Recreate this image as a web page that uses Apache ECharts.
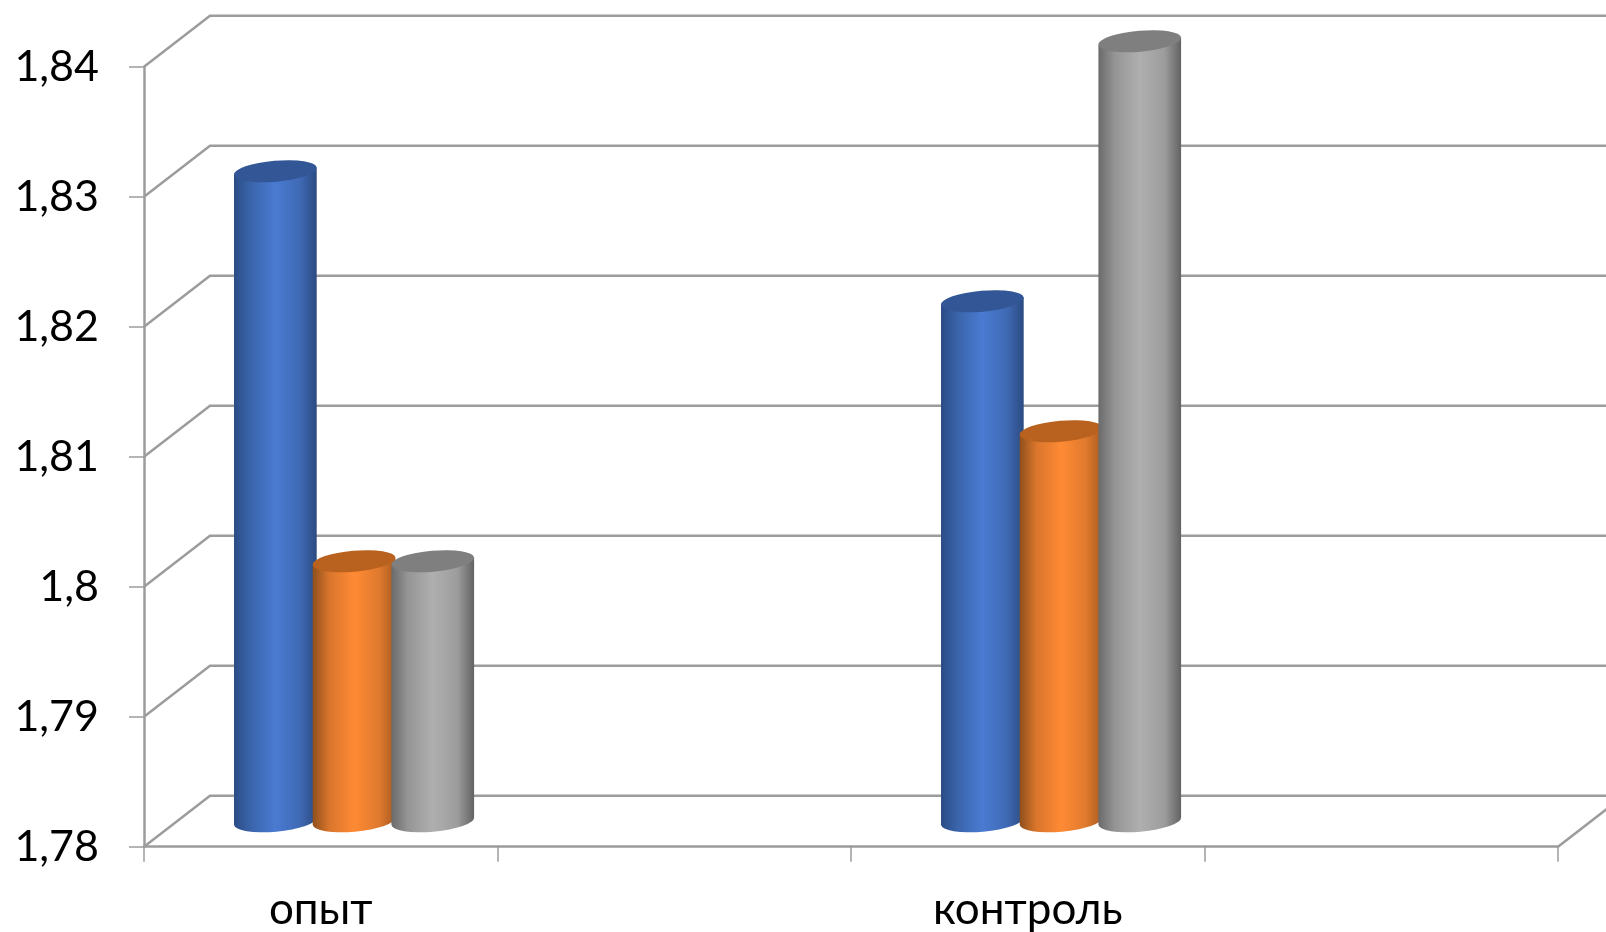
<!DOCTYPE html>
<html><head><meta charset="utf-8">
<style>html,body{margin:0;padding:0;background:#fff}#c{width:1606px;height:932px}</style>
<script src="https://cdn.jsdelivr.net/npm/echarts@6/dist/echarts.min.js"></script>
</head><body><div id="c"></div>
<script>
const categories = ['опыт', '', 'контроль', ''];
const seriesA = [1.83, null, 1.82, null];
const seriesB = [1.80, null, 1.81, null];
const seriesC = [1.80, null, 1.84, null];
const yTicks = [1.78, 1.79, 1.80, 1.81, 1.82, 1.83, 1.84];

const DEPTH_X = 66, DEPTH_Y = 51;
const BAR_STEP = 78.7, RX = 41.5, RY = 10.5, TILT = 5 * Math.PI / 180;
const FONT = 'Lato, "Open Sans", sans-serif';
const WALL = '#9c9c9c';

function grad(edgeL, mid1, center, mid2, edgeR) {
  return { type: 'linear', x: 0, y: 0, x2: 1, y2: 0, colorStops: [
    { offset: 0, color: edgeL }, { offset: 0.2, color: mid1 }, { offset: 0.5, color: center },
    { offset: 0.8, color: mid2 }, { offset: 1, color: edgeR } ] };
}
const looks = [
  { body: grad('#2a4c86', '#3a64aa', '#4a7bd2', '#3f69b4', '#2b4a80'), top: '#335796' },
  { body: grad('#8f4f1c', '#d9752c', '#ff8a34', '#e07a2e', '#a85a20'), top: '#b9621f' },
  { body: grad('#6a6a6a', '#959595', '#afafaf', '#9c9c9c', '#626262'), top: '#7f7f7f' }
];

function cylinder(idx) {
  return function (params, api) {
    const look = looks[idx];
    const cat = api.value(0), val = api.value(1);
    const cx = api.coord([cat, val])[0] + DEPTH_X / 2 + (idx - 1) * BAR_STEP + 0.3;
    const topY = api.coord([cat, val])[1] - DEPTH_Y / 2;
    const baseY = api.coord([cat, 1.78])[1] - DEPTH_Y / 2;
    const ex = RX * Math.cos(TILT), ey = RX * Math.sin(TILT);
    const rot = -5;
    const arc = (x, y, sweep) => `A${RX} ${RY} ${rot} 0 ${sweep} ${x} ${y}`;
    const body = `M${cx - ex} ${topY + ey}` +
      `L${cx + ex} ${topY - ey}` +
      `L${cx + ex} ${baseY - ey}` +
      arc(cx - ex, baseY + ey, 1) + 'Z';
    const lid = `M${cx - ex} ${topY + ey}` + arc(cx + ex, topY - ey, 1) + arc(cx - ex, topY + ey, 1) + 'Z';
    return { type: 'group', children: [
      { type: 'path', shape: { pathData: body }, style: { fill: look.body } },
      { type: 'path', shape: { pathData: lid }, style: { fill: look.top } }
    ] };
  };
}

function barData(values) {
  return values.map((v, i) => (v === null ? null : [i, v])).filter(Boolean);
}

function wallLine(params, api) {
  const val = api.value(0);
  const p = api.coord([0, val]);
  const x0 = params.coordSys.x, x1 = params.coordSys.x + params.coordSys.width;
  const y = p[1];
  const children = [{
    type: 'polyline',
    shape: { points: [[x0, y], [x0 + DEPTH_X, y - DEPTH_Y], [1640, y - DEPTH_Y]] },
    style: { fill: null, stroke: WALL, lineWidth: 2.5 }
  }];
  if (val === yTicks[0]) {
    children.push({ type: 'line', shape: { x1: x1, y1: y, x2: x1 + DEPTH_X, y2: y - DEPTH_Y },
      style: { stroke: WALL, lineWidth: 2.5 } });
  }
  return { type: 'group', children };
}

const chart = echarts.init(document.getElementById('c'), null, { renderer: 'canvas' });
chart.setOption({
  animation: false,
  backgroundColor: '#fff',
  grid: { left: 144, right: 48, top: 66.7, bottom: 85.3, containLabel: false },
  xAxis: {
    type: 'category', data: categories,
    axisLine: { lineStyle: { color: WALL, width: 2.5 } },
    axisTick: { show: true, length: 15, interval: 0, alignWithLabel: false, lineStyle: { color: WALL, width: 1.5 } },
    axisLabel: { interval: 0, margin: 41, fontSize: 44, color: '#000', fontFamily: FONT },
    splitLine: { show: false }
  },
  yAxis: {
    type: 'value', min: 1.78, max: 1.84, interval: 0.01,
    axisLine: { show: true, lineStyle: { color: WALL, width: 2.5 } },
    axisTick: { show: true, length: 15, lineStyle: { color: WALL, width: 1.5 } },
    axisLabel: { margin: 45, fontSize: 43, color: '#000', fontFamily: FONT, padding: [9, 0, 0, 0],
      formatter: v => String(+v.toFixed(2)).replace('.', ',') },
    splitLine: { show: false }
  },
  series: [
    { type: 'custom', name: 'wall', clip: false, z: 1, silent: true, data: yTicks.map(v => [v]),
      encode: { y: 0 }, renderItem: wallLine },
    { type: 'custom', name: 'Ряд 1', z: 2, data: barData(seriesA), encode: { x: 0, y: 1 }, renderItem: cylinder(0) },
    { type: 'custom', name: 'Ряд 2', z: 3, data: barData(seriesB), encode: { x: 0, y: 1 }, renderItem: cylinder(1) },
    { type: 'custom', name: 'Ряд 3', z: 4, data: barData(seriesC), encode: { x: 0, y: 1 }, renderItem: cylinder(2) }
  ]
});
</script></body></html>
